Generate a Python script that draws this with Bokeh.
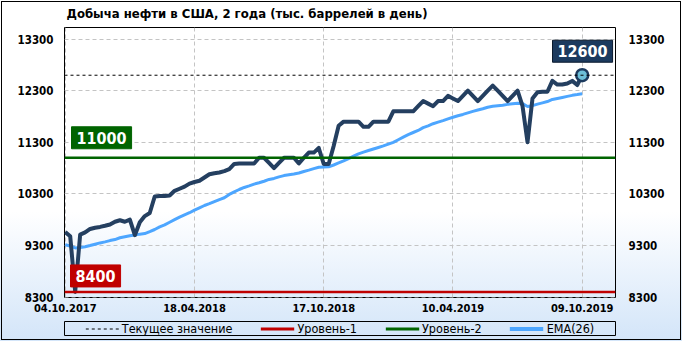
from bokeh.plotting import figure
from bokeh.layouts import column
from bokeh.models import (Range1d, LinearAxis, FixedTicker, Span, Label, Legend,
                          LegendItem)
from bokeh.embed import file_html
from bokeh.resources import INLINE

title_text = "Добыча нефти  в США, 2 года (тыс. баррелей в день)"
date_labels = ["04.10.2017", "18.04.2018", "17.10.2018", "10.04.2019", "09.10.2019"]
date_label_idx = [0, 26, 52, 78, 104]
y_ticks = [8300, 9300, 10300, 11300, 12300, 13300]

production = [
    9560, 9480, 8400, 9510, 9553, 9620, 9645, 9660, 9682, 9707,
    9760, 9789, 9760, 9800, 9500, 9750, 9870, 9930, 10250, 10260,
    10260, 10270, 10360, 10400, 10440, 10500, 10530, 10555, 10617, 10680,
    10700, 10714, 10740, 10780, 10880, 10890, 10890, 10890, 10890, 11000,
    11000, 10900, 10800, 10900, 11000, 11000, 11000, 10890, 11000, 11100,
    11100, 11190, 10880, 10880, 11230, 11620, 11700, 11700, 11700, 11700,
    11600, 11600, 11700, 11700, 11700, 11700, 11900, 11900, 11900, 11900,
    11900, 12000, 12100, 12050, 12000, 12100, 12100, 12200, 12150, 12100,
    12200, 12300, 12200, 12100, 12200, 12300, 12400, 12300, 12200, 12100,
    12200, 12300, 12000, 11300, 12150, 12270, 12280, 12280, 12490, 12420,
    12420, 12440, 12490, 12410, 12600,
]

ema26 = [
    9315, 9290, 9252, 9262, 9277, 9300, 9325, 9350, 9370, 9395,
    9415, 9450, 9470, 9490, 9505, 9520, 9532, 9570, 9610, 9660,
    9700, 9750, 9800, 9850, 9895, 9935, 9985, 10030, 10075, 10110,
    10150, 10190, 10225, 10290, 10340, 10385, 10425, 10455, 10490, 10515,
    10545, 10580, 10600, 10630, 10655, 10670, 10685, 10705, 10735, 10760,
    10790, 10815, 10820, 10825, 10860, 10900, 10940, 10985, 11030, 11075,
    11110, 11140, 11170, 11200, 11230, 11265, 11300, 11350, 11400, 11450,
    11490, 11530, 11585, 11620, 11660, 11690, 11720, 11755, 11785, 11815,
    11840, 11870, 11900, 11925, 11950, 11980, 12000, 12010, 12020, 12035,
    12045, 12055, 12050, 11995, 12010, 12040, 12065, 12090, 12130, 12150,
    12170, 12190, 12210, 12225, 12242,
]

current_value = 12600
level_1 = 8400
level_2 = 11000

legend_labels = ["Текущее значение", "Уровень-1", "Уровень-2", "EMA(26)"]

x_idx = list(range(len(production)))
x_ends = [x_idx[0], x_idx[-1]]

FONT = "DejaVu Sans Condensed"
NAVY = "#243f60"
RED = "#c00000"
GREEN = "#006400"
BLUE = "#4da6ff"

p = figure(width=682, height=318, output_backend="svg", toolbar_location=None,
           x_range=Range1d(-0.15, 110.7), y_range=Range1d(8292, 13525),
           min_border_left=64, min_border_right=67, min_border_top=27,
           min_border_bottom=21)
p.border_fill_color = None
p.background_fill_color = None
p.outline_line_color = "black"
p.outline_line_width = 1

p.title.text = title_text
p.title.align = "left"
p.title.vertical_align = "top"
p.title.offset = 2
p.title.text_font = FONT
p.title.text_font_size = "13px"
p.title.text_font_style = "bold"
p.title.text_color = "#000000"
p.title.standoff = 9

# axes
p.xaxis.ticker = FixedTicker(ticks=date_label_idx)
p.xaxis.major_label_overrides = {i: s for i, s in zip(date_label_idx, date_labels)}
p.yaxis.ticker = FixedTicker(ticks=y_ticks)
for ax in (p.xaxis[0], p.yaxis[0]):
    ax.axis_line_color = None
    ax.major_tick_line_color = None
    ax.minor_tick_line_color = None
    ax.major_tick_out = 0
    ax.major_tick_in = 0
    ax.major_label_text_font = FONT
    ax.major_label_text_font_style = "bold"
    ax.major_label_text_color = "#000000"
p.xaxis.major_label_text_font_size = "11px"
p.xaxis.major_label_standoff = 6
p.yaxis.major_label_text_font_size = "11.5px"
p.yaxis.major_label_standoff = 11

right_axis = LinearAxis(ticker=FixedTicker(ticks=y_ticks), axis_line_color=None,
                        major_tick_line_color=None, minor_tick_line_color=None,
                        major_tick_out=0, major_tick_in=0,
                        major_label_text_font=FONT, major_label_text_font_style="bold",
                        major_label_text_font_size="11.5px", major_label_standoff=13,
                        major_label_text_color="#000000")
p.add_layout(right_axis, "right")

p.xgrid.ticker = FixedTicker(ticks=date_label_idx)
for g in (p.xgrid[0], p.ygrid[0]):
    g.grid_line_color = "#c4c4c4"
    g.grid_line_dash = "4 3"
    g.grid_line_width = 1

# level lines
p.add_layout(Span(location=current_value, dimension="width", line_color="black",
                  line_width=1, line_dash="3 3"))
p.add_layout(Span(location=level_1, dimension="width", line_color=RED, line_width=2.5))
p.add_layout(Span(location=level_2, dimension="width", line_color=GREEN, line_width=2.5))

p.line(x_idx, ema26, line_color=BLUE, line_width=3)
p.line(x_idx, production, line_color=NAVY, line_width=4, line_join="round")
p.scatter(x=[x_idx[-1]], y=[production[-1]], size=12, fill_color="#6cbfd8",
          line_color="#1c3a5e", line_width=2.5)


def value_box(txt, y, fill, x_screen, y_off):
    return Label(x=x_screen, y=y, x_units="screen", y_units="data", y_offset=y_off,
                 text=txt, text_font=FONT, text_font_style="bold",
                 text_font_size="16px", text_color="white",
                 background_fill_color=fill, border_line_color=fill,
                 padding=(5, 5), text_baseline="bottom")


p.add_layout(value_box(str(level_2), level_2, GREEN, 7, 9))
p.add_layout(value_box(str(level_1), level_1, RED, 6, 5))
lbl = value_box(str(current_value), current_value, "#1c3a5e", 488, 13)
lbl.border_line_color = "#0a1a2e"
p.add_layout(lbl)

# ---- legend strip (its frame outline is the legend box) ----
q = figure(width=682, height=23, output_backend="svg", toolbar_location=None,
           x_axis_type=None, y_axis_type=None,
           x_range=Range1d(0, 1), y_range=Range1d(0, 1),
           min_border_left=63, min_border_right=67, min_border_top=3,
           min_border_bottom=6)
q.border_fill_color = None
q.background_fill_color = None
q.outline_line_color = "black"
q.outline_line_width = 1
q.grid.visible = False

# legend glyph sources: the same series, lying outside this strip's (0..1) range
r_cur_leg = q.line(x=x_ends, y=[current_value] * 2, line_color="black", line_width=1,
                   line_dash="3 3")
r_l1_leg = q.line(x=x_ends, y=[level_1] * 2, line_color=RED, line_width=3)
r_l2_leg = q.line(x=x_ends, y=[level_2] * 2, line_color=GREEN, line_width=3)
r_ema_leg = q.line(x=x_idx, y=ema26, line_color=BLUE, line_width=4)

legend = Legend(items=[
    LegendItem(label=legend_labels[0], renderers=[r_cur_leg]),
    LegendItem(label=legend_labels[1], renderers=[r_l1_leg]),
    LegendItem(label=legend_labels[2], renderers=[r_l2_leg]),
    LegendItem(label=legend_labels[3], renderers=[r_ema_leg]),
], orientation="horizontal", location="center", margin=0, padding=0,
    spacing=28, glyph_width=34, glyph_height=14, label_height=14, label_standoff=3,
    label_text_font=FONT, label_text_font_size="12.5px", label_text_color="#000000",
    border_line_color=None, background_fill_alpha=0)
q.add_layout(legend, "center")

layout = column(p, q, spacing=0)
layout.styles = {
    "background": "linear-gradient(to bottom, #ffffff 0%, #ffffff 62%, #d3e5f9 100%)",
    "outline": "1.5px solid #000000",
    "outline-offset": "-2px",
}

open("out.html", "w").write(file_html(layout, INLINE))
